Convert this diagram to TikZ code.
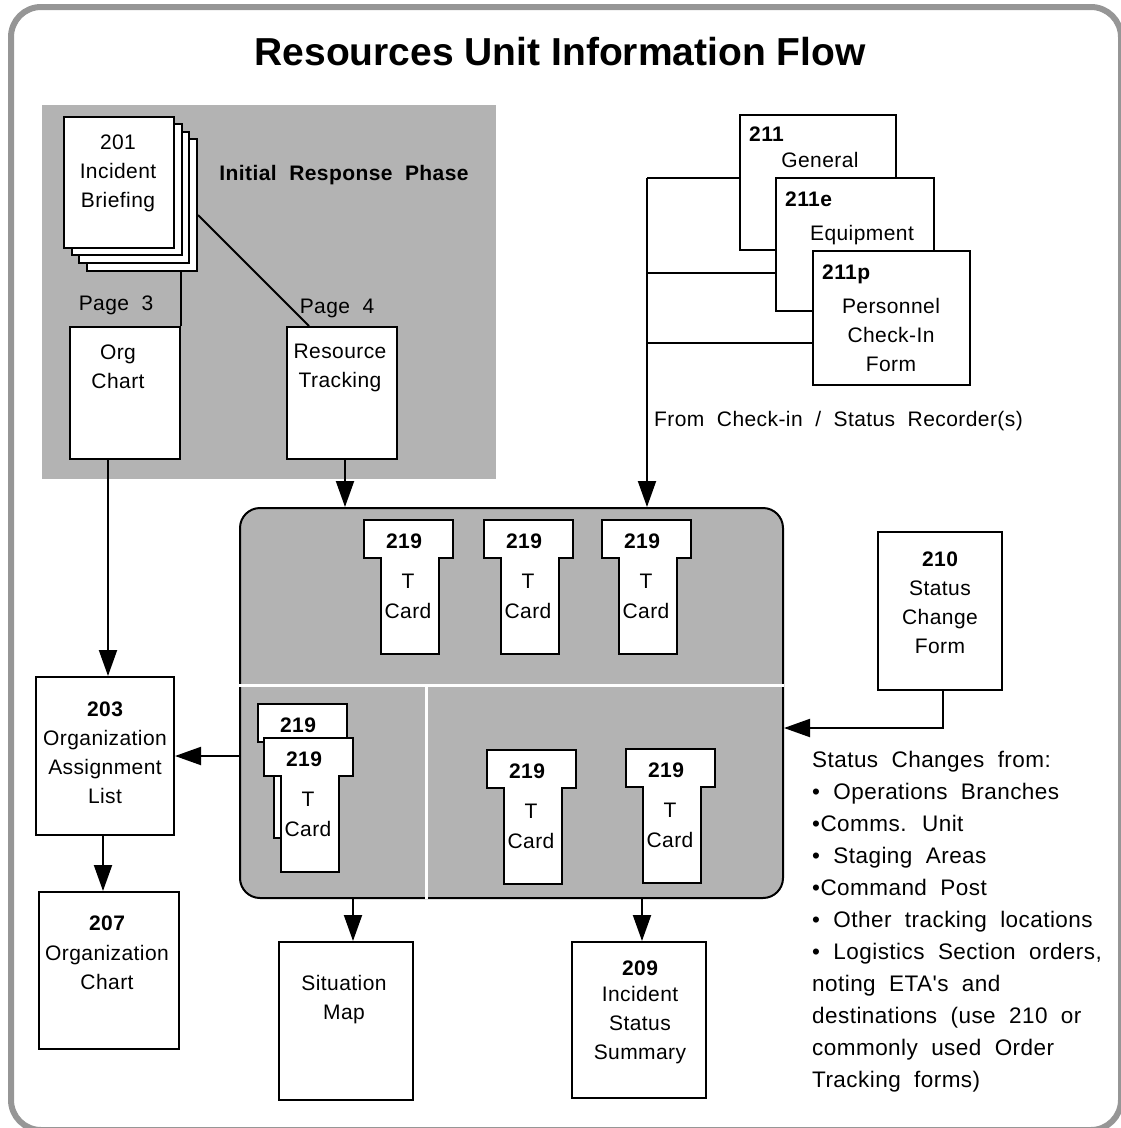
\documentclass[tikz,border=0pt]{standalone}
\usepackage{fontspec}
\setmainfont{Liberation Sans}[LetterSpace=2,WordSpace=2,Ligatures=TeXOff]
\newfontfamily\titlefont{Liberation Sans}
\usetikzlibrary{arrows.meta,fit}
\definecolor{panelgray}{RGB}{179,179,179}
\definecolor{framegray}{RGB}{150,150,150}

\tikzset{
  txt/.style={font=\fontsize{21}{29}\selectfont, inner sep=0pt, align=center},
  num/.style={font=\fontsize{21}{29}\selectfont\bfseries, inner sep=0pt},
  form/.style={draw=black, fill=white, line width=2pt, inner sep=0pt},
  conn/.style={draw=black, line width=2pt},
  arr/.style={conn, -{Triangle[length=26pt,width=18pt]}},
  % T-card: head 89 wide, 38 tall; stem 58 wide, total height 134
  tcard/.pic={
    \path[form] (0,0) -- (89,0) -- (89,38) -- (75,38) -- (75,134)
      -- (17,134) -- (17,38) -- (0,38) -- cycle;
    \node[num] (-n) at (40,21) {219};
    \node[txt] (-t) at (44,61) {T};
    \node[txt] (-c) at (44,91) {Card};
  },
  tcardback/.pic={
    \path[form] (0,0) -- (89,0) -- (89,38) -- (75,38) -- (75,134)
      -- (16,134) -- (16,38) -- (0,38) -- cycle;
    \node[num] (-n) at (40,21) {219};
  },
}

\begin{document}
\begin{tikzpicture}[x=1pt,y=-1pt]
\useasboundingbox (0,0) rectangle (1121,1128);

% outer frame
\begin{scope}
  \clip (0,0) rectangle (1121,1128);
  \draw[framegray, line width=6pt, rounded corners=30pt] (11,7) rectangle (1121,1130);
\end{scope}

\node[font=\fontsize{39}{44}\selectfont\titlefont\bfseries, inner sep=0pt]
  (title) at (560,52) {Resources Unit Information Flow};

% initial response phase panel
\node[fill=panelgray, inner sep=0pt, fit={(42,105) (496,479)}] (irp) {};
\node[num] (irplabel) at (344,175) {Initial Response Phase};

% 201 stack of pages
\node[form, fit={(87,139) (197,271)}] (p4) {};
\node[form, fit={(79,132) (189,263)}] (p3) {};
\node[form, fit={(72,124) (182,255)}] (p2) {};
\node[form, fit={(64,117) (174,248)}] (p1) {};
\node[txt] (p1text) at (118,173) {201\\Incident\\Briefing};

\node[form, fit={(70,327) (180,459)}] (org) {};
\node[txt] (orgtext) at (118,367) {Org\\Chart};
\node[form, fit={(287,327) (397,459)}] (rt) {};
\node[txt] (rttext) at (340,368) {Resource\\Tracking};

\node[txt] (page3) at (116,305) {Page 3};
\node[txt] (page4) at (337,308) {Page 4};

\draw[conn] (org.north east) -- (org.north east |- p4.south);
\draw[conn] (p4.east |- 0,215) -- ([xshift=23pt]rt.north west);

% 211 check-in forms
\coordinate (jn) at (647,178);
\draw[conn] (jn) -- (742,178);
\draw[conn] (jn |- 0,273) -- (778,273);
\draw[conn] (jn |- 0,343) -- (815,343);

\node[form, fit={(740,115) (896,250)}] (g211) {};
\node[num, anchor=west] (g211n) at (749,134) {211};
\node[txt] (g211t) at (820,160) {General};
\node[form, fit={(776,178) (934,311)}] (e211) {};
\node[num, anchor=west] (e211n) at (785,199) {211e};
\node[txt] (e211t) at (862,235) {Equipment};
\node[form, fit={(813,251) (970,385)}] (p211) {};
\node[num, anchor=west] (p211n) at (822,274) {211p};
\node[txt] (p211t) at (891,335) {Personnel\\Check-In\\Form};

\node[txt, anchor=west] (fromlabel) at (654,421) {From Check-in / Status Recorder(s)};

% T-card rack
\node[draw=black, fill=panelgray, line width=2pt, rounded corners=20pt,
      inner sep=0pt, fit={(240,508) (783,898)}] (panel) {};
\draw[white, line width=3pt] (panel.west |- 0,685) -- (panel.east |- 0,685);
\draw[white, line width=3pt] (426,685) -- (panel.south -| 426,0);

\pic (tc1) at (364,520) {tcard};
\pic (tc2) at (484,520) {tcard};
\pic (tc3) at (602,520) {tcard};
\pic (tcb) at (258,704) {tcardback};
\pic (tcf) at (264,738) {tcard};
\pic (tca) at (487,750) {tcard};
\pic (tcd) at (626,749) {tcard};

\draw[arr] ([xshift=3pt]rt.south) -- ([xshift=3pt]rt.south |- panel.north);
\draw[arr] (jn) -- (jn |- panel.north);

% 210 status change form
\node[form, fit={(878,532) (1002,690)}] (s210) {};
\node[num] (s210n) at (940,559) {210};
\node[txt] (s210t) at (940,617) {Status\\Change\\Form};
\draw[arr] ([xshift=3pt]s210.south) |- (panel.east |- 0,728);

\node[font=\fontsize{22.5}{32}\selectfont, inner sep=0pt, align=left, anchor=north west]
  (changes) at (812,751) {Status Changes from:\\
  • Operations Branches\\
  •Comms. Unit\\
  • Staging Areas\\
  •Command Post\\
  • Other tracking locations\\
  • Logistics Section orders,\\
  noting ETA's and\\
  destinations (use 210 or\\
  commonly used Order\\
  Tracking forms)};

% outputs
\node[form, fit={(36,677) (174,835)}] (a203) {};
\node[num] (a203n) at (105,709) {203};
\node[txt] (a203t) at (105,767) {Organization\\Assignment\\List};
\node[form, fit={(39,892) (179,1049)}] (a207) {};
\node[num] (a207n) at (107,923) {207};
\node[txt] (a207t) at (107,967) {Organization\\Chart};
\node[form, fit={(279,942) (413,1100)}] (sit) {};
\node[txt] (sittext) at (344,1000) {Situation\\Map};
\node[form, fit={(572,942) (706,1098)}] (s209) {};
\node[num] (s209n) at (640,968) {209};
\node[txt] (s209t) at (640,1025) {Incident\\Status\\Summary};

\draw[arr] ([xshift=-17pt]org.south) -- ([xshift=3pt]a203.north);
\draw[arr] (panel.west |- 0,756) -- (a203.east |- 0,756);
\draw[arr] ([xshift=-2pt]a203.south) -- ([xshift=-2pt]a203.south |- a207.north);
\draw[arr] ([xshift=7pt]sit.north |- panel.south) -- ([xshift=7pt]sit.north);
\draw[arr] ([xshift=3pt]s209.north |- panel.south) -- ([xshift=3pt]s209.north);
\end{tikzpicture}
\end{document}
